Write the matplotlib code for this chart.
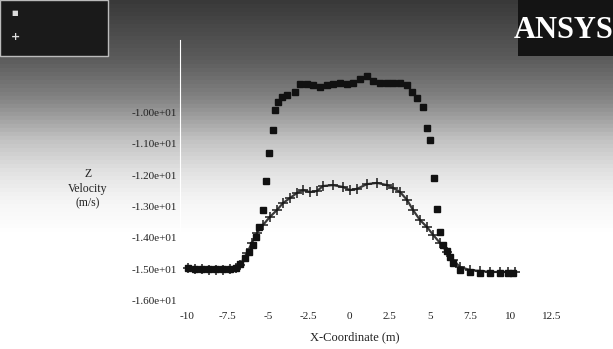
import numpy as np
import matplotlib
matplotlib.use("Agg")
import matplotlib.pyplot as plt
from matplotlib.patches import Rectangle

# ---- data ----
x_cross = [-9.94, -9.51, -9.07, -8.64, -8.21, -7.78, -7.35, -6.98, -6.73, -6.30,
           -5.99, -5.68, -5.31, -4.88, -4.44, -4.07, -3.64, -3.21, -2.84, -2.41,
           -1.98, -1.60, -0.99, -0.37, 0.06, 0.49, 1.11, 1.73, 2.35, 2.72,
           3.15, 3.58, 3.95, 4.38, 4.81, 5.19, 5.62, 6.05, 6.42, 6.85,
           7.47, 8.09, 8.70, 9.32, 9.81, 10.25]
y_cross = [-14.95, -14.98, -14.98, -15.02, -15.02, -15.02, -14.98, -14.95, -14.86, -14.48,
           -14.16, -13.84, -13.59, -13.33, -13.11, -12.89, -12.73, -12.57, -12.48, -12.54,
           -12.51, -12.35, -12.32, -12.38, -12.48, -12.44, -12.29, -12.25, -12.32, -12.41,
           -12.54, -12.79, -13.11, -13.43, -13.65, -13.90, -14.16, -14.44, -14.70, -14.92,
           -15.02, -15.05, -15.08, -15.08, -15.08, -15.08]

x_square = [-9.94, -9.51, -9.07, -8.64, -8.21, -7.78, -7.35, -6.98, -6.73, -6.42,
            -6.17, -5.93, -5.74, -5.56, -5.31, -5.12, -4.94, -4.69, -4.57, -4.38,
            -4.14, -3.83, -3.33, -3.02, -2.59, -2.22, -1.79, -1.36, -0.99, -0.56,
            -0.12, 0.25, 0.68, 1.11, 1.48, 1.91, 2.35, 2.72, 3.15, 3.58,
            3.89, 4.20, 4.57, 4.81, 5.00, 5.25, 5.43, 5.62, 5.80, 6.05,
            6.23, 6.42, 6.85, 7.47, 8.09, 8.70, 9.32, 9.81, 10.12]
y_square = [-14.97, -14.98, -14.98, -15.00, -15.00, -15.00, -14.98, -14.95, -14.83, -14.63,
            -14.44, -14.22, -13.97, -13.65, -13.11, -12.19, -11.30, -10.57, -9.94, -9.68,
            -9.52, -9.46, -9.37, -9.11, -9.11, -9.14, -9.21, -9.14, -9.11, -9.08,
            -9.11, -9.08, -8.95, -8.86, -9.02, -9.08, -9.08, -9.08, -9.08, -9.14,
            -9.37, -9.56, -9.84, -10.51, -10.89, -12.10, -13.08, -13.81, -14.22, -14.41,
            -14.60, -14.79, -15.02, -15.08, -15.11, -15.11, -15.11, -15.11, -15.11]

x_ticks = [-10, -7.5, -5, -2.5, 0, 2.5, 5, 7.5, 10, 12.5]
x_tick_labels = ["-10", "-7.5", "-5", "-2.5", "0", "2.5", "5", "7.5", "10", "12.5"]
y_ticks = [-10, -11, -12, -13, -14, -15, -16]
y_tick_labels = ["-1.00e+01", "-1.10e+01", "-1.20e+01", "-1.30e+01",
                 "-1.40e+01", "-1.50e+01", "-1.60e+01"]

W, H = 613, 349
fig = plt.figure(figsize=(W / 100, H / 100), dpi=100, facecolor="white")

# background gradient (dark top -> white bottom) as figure-level strips
step = 4
for r in range(0, 240, step):
    g = float(np.interp(r + step / 2, [0, 60, 100, 140, 170, 200, 235],
                        [0.22, 0.36, 0.52, 0.76, 0.88, 0.96, 1.0]))
    hexcol = "#{0:02x}{0:02x}{0:02x}".format(int(round(g * 255)))
    fig.add_artist(Rectangle((0, 1 - (r + step + 0.5) / H), 1, (step + 0.5) / H,
                             transform=fig.transFigure, facecolor=hexcol,
                             edgecolor=hexcol, linewidth=0.3, zorder=-10))

# legend box (top-left) and logo box (top-right)
fig.add_artist(Rectangle((0, 1 - 56 / H), 108 / W, 56 / H, transform=fig.transFigure,
                         facecolor="#1a1a1a", edgecolor="#bbbbbb", linewidth=1.0,
                         zorder=-5))
fig.add_artist(Rectangle((518 / W, 1 - 56 / H), 95 / W, 56 / H,
                         transform=fig.transFigure, facecolor="#141414",
                         edgecolor="none", zorder=-5))
fig.text(15 / W, 1 - 13 / H, "\u25A0", color="#dddddd", fontsize=5,
         ha="center", va="center")
fig.text(15 / W, 1 - 37 / H, "+", color="#dddddd", fontsize=8, fontweight="bold",
         ha="center", va="center")
fig.text(564 / W, 1 - 31 / H, "ANSYS", color="white", fontsize=22,
         fontweight="bold", family="Liberation Serif", ha="center", va="center")

# main axes
L, R, T, B = 180, 570, 40, 305
ax = fig.add_axes([L / W, (H - B) / H, (R - L) / W, (B - T) / H])
ax.patch.set_alpha(0)
ax.set_xlim(-10.43, 13.64)
ax.set_ylim(-16.13, -7.71)

ax.plot(x_cross, y_cross, linestyle="-", linewidth=1.6, color="#3a3a3a",
        marker="+", ms=6.5, mew=1.1, mec="#1c1c1c")
ax.plot(x_square, y_square, linestyle="none", marker="s", ms=3.8,
        color="#111111")

for s in ax.spines.values():
    s.set_visible(False)
ax.spines["left"].set_visible(True)
ax.spines["left"].set_color("white")

ax.set_xticks(x_ticks)
ax.set_xticklabels(x_tick_labels)
ax.set_yticks(y_ticks)
ax.set_yticklabels(y_tick_labels)
ax.tick_params(axis="both", length=0, labelsize=8, colors="#222222")
ax.tick_params(axis="x", pad=5)
ax.tick_params(axis="y", pad=2)
for lab in ax.get_xticklabels() + ax.get_yticklabels():
    lab.set_family("Liberation Serif")

fig.text(355 / W, 1 - 337 / H, "X-Coordinate (m)", ha="center", va="center",
         fontsize=9, family="Liberation Serif", color="#222222")
fig.text(88 / W, 1 - 189 / H, "Z\nVelocity\n(m/s)", ha="center", va="center",
         fontsize=8.5, family="Liberation Serif", color="#222222",
         linespacing=1.3)

fig.savefig("out.png", dpi=100)
